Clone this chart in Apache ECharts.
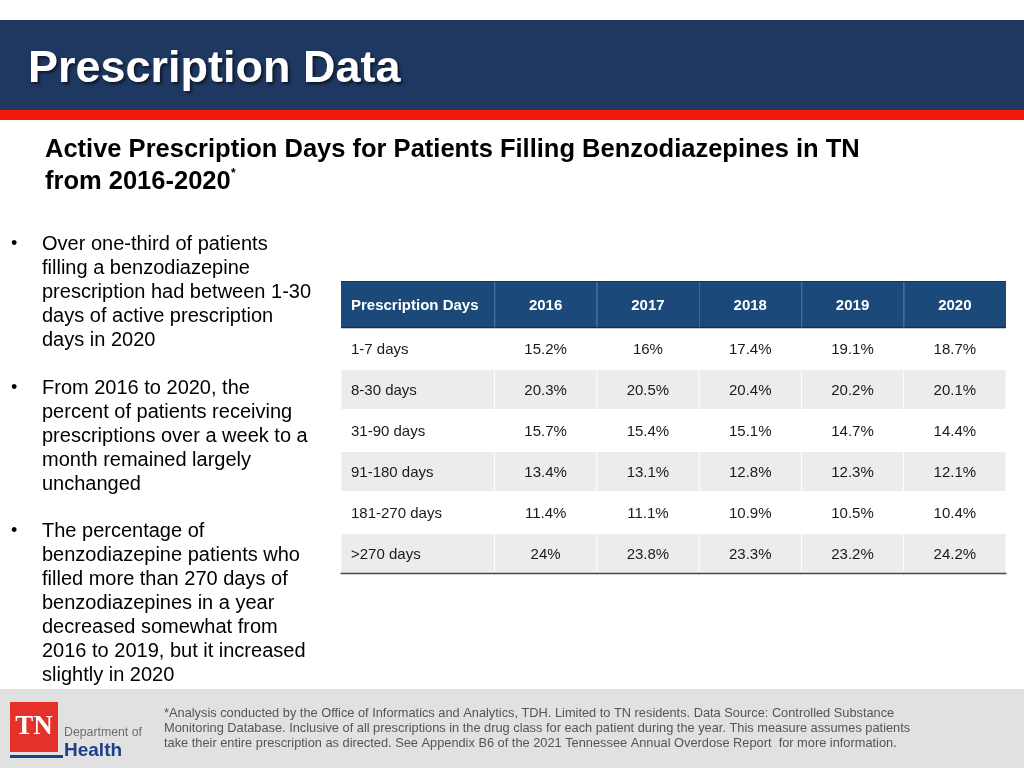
<!DOCTYPE html>
<html><head><meta charset="utf-8">
<script src="https://cdn.jsdelivr.net/npm/echarts@6/dist/echarts.min.js"></script>
<style>html,body{margin:0;padding:0;background:#fff}#c{width:1024px;height:768px}</style>
</head><body><div id="c"></div>
<script>
// ---------- data ----------
const slideTitle = 'Prescription Data';
const subtitleLine1 = 'Active Prescription Days for Patients Filling Benzodiazepines in TN';
const subtitleLine2 = 'from 2016-2020';
const firstHeader = 'Prescription Days';
const years = ['2016', '2017', '2018', '2019', '2020'];
const rowLabels = ['1-7 days', '8-30 days', '31-90 days', '91-180 days', '181-270 days', '>270 days'];
const pct2016 = [15.2, 20.3, 15.7, 13.4, 11.4, 24];
const pct2017 = [16, 20.5, 15.4, 13.1, 11.1, 23.8];
const pct2018 = [17.4, 20.4, 15.1, 12.8, 10.9, 23.3];
const pct2019 = [19.1, 20.2, 14.7, 12.3, 10.5, 23.2];
const pct2020 = [18.7, 20.1, 14.4, 12.1, 10.4, 24.2];
const bullet1 = ['Over one-third of patients', 'filling a benzodiazepine', 'prescription had between 1-30', 'days of active prescription', 'days in 2020'];
const bullet2 = ['From 2016 to 2020, the', 'percent of patients receiving', 'prescriptions over a week to a', 'month remained largely', 'unchanged'];
const bullet3 = ['The percentage of', 'benzodiazepine patients who', 'filled more than 270 days of', 'benzodiazepines in a year', 'decreased somewhat from', '2016 to 2019, but it increased', 'slightly in 2020'];
const footnote = [
  '*Analysis conducted by the Office of Informatics and Analytics, TDH. Limited to TN residents. Data Source: Controlled Substance',
  'Monitoring Database. Inclusive of all prescriptions in the drug class for each patient during the year. This measure assumes patients',
  'take their entire prescription as directed. See Appendix B6 of the 2021 Tennessee Annual Overdose Report  for more information.'
];

// ---------- build ----------
const yearValues = [pct2016, pct2017, pct2018, pct2019, pct2020];
const FONT = '"Liberation Sans", Arial, Helvetica, sans-serif';
const colSpan = c => (c === 0 ? [0, 1.5] : [c + 0.5, 1]);

const bodyData = [];
for (let r = 0; r < rowLabels.length; r++) for (let c = 0; c <= years.length; c++) bodyData.push([c, r]);
const headData = [];
for (let c = 0; c <= years.length; c++) headData.push([c, 0]);

function cellText(c, r) {
  return c === 0 ? rowLabels[r] : yearValues[c - 1][r] + '%';
}

function renderBody(params, api) {
  const c = api.value(0), r = api.value(1);
  const [x0, w] = colSpan(c);
  const p = api.coord([x0, r]);
  const s = api.size([w, 1]);
  const top = p[1] - s[1] / 2;
  const gray = r % 2 === 1;
  const children = [{
    type: 'rect',
    shape: { x: p[0] + 0.5, y: top + 1, width: s[0] - 1, height: s[1] - 2 },
    style: { fill: gray ? '#ececec' : '#ffffff' }
  }, {
    type: 'text',
    style: {
      x: c === 0 ? p[0] + 10 : p[0] + s[0] / 2,
      y: p[1] + 1.5,
      text: cellText(c, r),
      align: c === 0 ? 'left' : 'center',
      verticalAlign: 'middle',
      font: '15px ' + FONT,
      fill: '#1a1a1a'
    }
  }];
  if (r === rowLabels.length - 1) {
    children.push({
      type: 'line',
      z2: 50,
      shape: { x1: p[0] - 0.5, y1: top + s[1] - 0.5, x2: p[0] + s[0] + 0.5, y2: top + s[1] - 0.5 },
      style: { stroke: '#4a4a4a', lineWidth: 1.5 }
    });
  }
  return { type: 'group', children };
}

function renderHead(params, api) {
  const c = api.value(0), r = api.value(1);
  const [x0, w] = colSpan(c);
  const p = api.coord([x0, r]);
  const s = api.size([w, 1]);
  const top = p[1] - s[1] / 2;
  const children = [{
    type: 'rect',
    shape: { x: p[0], y: top, width: s[0], height: s[1] },
    style: { fill: '#1b4a7a' }
  }, {
    type: 'line',
    shape: { x1: p[0], y1: top + 0.5, x2: p[0] + s[0], y2: top + 0.5 },
    style: { stroke: '#13365c', lineWidth: 1 }
  }, {
    type: 'line',
    shape: { x1: p[0], y1: top + s[1] - 0.5, x2: p[0] + s[0], y2: top + s[1] - 0.5 },
    style: { stroke: '#12304f', lineWidth: 1.5 }
  }, {
    type: 'text',
    style: {
      x: c === 0 ? p[0] + 10 : p[0] + s[0] / 2,
      y: p[1] + 1.5,
      text: c === 0 ? firstHeader : years[c - 1],
      align: c === 0 ? 'left' : 'center',
      verticalAlign: 'middle',
      font: 'bold 15px ' + FONT,
      fill: '#ffffff'
    }
  }];
  if (c > 0) {
    children.push({
      type: 'line',
      z2: 50,
      shape: { x1: p[0] + 0.5, y1: top + 1, x2: p[0] + 0.5, y2: top + s[1] - 1 },
      style: { stroke: '#3f6a96', lineWidth: 1 }
    });
  }
  return { type: 'group', children };
}

const totalUnits = 1.5 + years.length;

const graphic = [
  { type: 'rect', shape: { x: 0, y: 20, width: 1024, height: 90 }, style: { fill: '#1e3861' } },
  { type: 'rect', shape: { x: 0, y: 110, width: 1024, height: 10 }, style: { fill: '#f01a0c' } },
  { type: 'text', style: { x: 28, y: 70, text: slideTitle, font: 'bold 45px ' + FONT, fill: '#ffffff', verticalAlign: 'middle',
      textShadowColor: 'rgba(0,0,0,0.6)', textShadowBlur: 3, textShadowOffsetX: 2, textShadowOffsetY: 2 } },
  { type: 'text', style: { x: 45, y: 150, text: subtitleLine1, font: 'bold 25.5px ' + FONT, fill: '#000', verticalAlign: 'middle' } },
  { type: 'text', style: { x: 45, y: 182, text: subtitleLine2, font: 'bold 25.5px ' + FONT, fill: '#000', verticalAlign: 'middle' } },
  { type: 'text', style: { x: 231, y: 174, text: '*', font: 'bold 12px ' + FONT, fill: '#000', verticalAlign: 'middle' } },
  { type: 'rect', shape: { x: 0, y: 689, width: 1024, height: 79 }, style: { fill: '#e1e1e1' } },
  { type: 'rect', shape: { x: 10, y: 702, width: 48, height: 50 }, style: { fill: '#e4322b' } },
  { type: 'text', style: { x: 34, y: 727, text: 'TN', font: 'bold 27px "Liberation Serif", "DejaVu Serif", serif', fill: '#ffffff', align: 'center', verticalAlign: 'middle' } },
  { type: 'rect', shape: { x: 10, y: 755, width: 53, height: 3 }, style: { fill: '#1c3f8a' } },
  { type: 'text', style: { x: 64, y: 733, text: 'Department of', font: '12.3px ' + FONT, fill: '#6d6d6d', verticalAlign: 'middle' } },
  { type: 'text', style: { x: 64, y: 751, text: 'Health', font: 'bold 19px ' + FONT, fill: '#1c3f8a', verticalAlign: 'middle' } },
  { type: 'text', style: { x: 164, y: 706, text: footnote.join('\n'), font: '12.8px ' + FONT, fill: '#555555', lineHeight: 15, verticalAlign: 'top' } }
];
[[bullet1, 232], [bullet2, 376], [bullet3, 519]].forEach(([lines, top]) => {
  graphic.push({ type: 'text', style: { x: 11, y: top + 12, text: '•', font: '18px ' + FONT, fill: '#000', verticalAlign: 'middle' } });
  graphic.push({ type: 'text', style: { x: 42, y: top, text: lines.join('\n'), font: '20px ' + FONT, fill: '#000', lineHeight: 24, verticalAlign: 'top' } });
});

const chart = echarts.init(document.getElementById('c'), null, { renderer: 'canvas' });
chart.setOption({
  animation: false,
  backgroundColor: '#ffffff',
  grid: [
    { left: 341, width: 665, top: 281, height: 47 },
    { left: 341, width: 665, top: 328, height: 246 }
  ],
  xAxis: [
    { gridIndex: 0, type: 'value', min: 0, max: totalUnits, show: false },
    { gridIndex: 1, type: 'value', min: 0, max: totalUnits, show: false }
  ],
  yAxis: [
    { gridIndex: 0, type: 'category', data: ['header'], show: false },
    { gridIndex: 1, type: 'category', data: rowLabels, inverse: true, show: false }
  ],
  series: [
    { type: 'custom', xAxisIndex: 0, yAxisIndex: 0, data: headData, renderItem: renderHead, silent: true },
    { type: 'custom', xAxisIndex: 1, yAxisIndex: 1, data: bodyData, renderItem: renderBody, silent: true }
  ],
  graphic
});
</script></body></html>
